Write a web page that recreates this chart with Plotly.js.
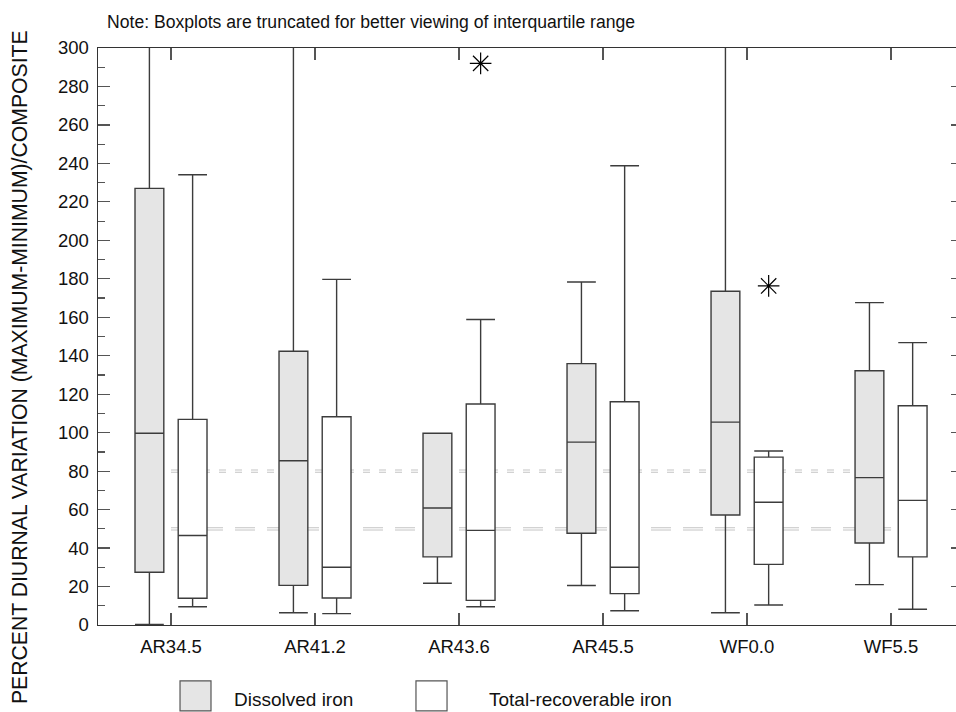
<!DOCTYPE html>
<html>
<head>
<meta charset="utf-8">
<script src="https://cdn.plot.ly/plotly-3.0.1.min.js"></script>
<style>
  html, body { margin: 0; padding: 0; background: #ffffff; }
  #chart { width: 956px; height: 712px; }
</style>
</head>
<body>
<div id="chart"></div>
<script>
// ---- data ----
const categories = ['AR34.5', 'AR41.2', 'AR43.6', 'AR45.5', 'WF0.0', 'WF5.5'];

// Dissolved iron (upper whiskers of AR34.5, AR41.2, WF0.0 run off the truncated axis)
const dissolvedLower  = [0.3, 6.4, 21.7, 20.5, 6.4, 21.0];
const dissolvedQ1     = [27.4, 20.6, 35.4, 47.7, 57.2, 42.6];
const dissolvedMedian = [99.7, 85.4, 60.8, 95.1, 105.5, 76.6];
const dissolvedQ3     = [227.0, 142.3, 99.7, 135.9, 173.5, 132.2];
const dissolvedUpper  = [320, 320, 99.7, 178.3, 320, 167.6];

// Total-recoverable iron
const totalLower  = [9.5, 5.9, 9.5, 7.4, 10.4, 8.2];
const totalQ1     = [13.9, 14.0, 12.8, 16.3, 31.5, 35.4];
const totalMedian = [46.5, 30.0, 49.2, 30.0, 63.8, 64.8];
const totalQ3     = [106.9, 108.3, 114.9, 116.1, 87.3, 114.0];
const totalUpper  = [234.1, 179.7, 158.8, 238.8, 90.5, 146.8];

// Outliers (total-recoverable iron)
const outlierCats = ['AR43.6', 'WF0.0'];
const outlierVals = [292.0, 176.3];

// Reference lines
const refLines = [80, 50];

// ---- layout helpers ----
const OFFSET = 0.15;
const BOXW = 0.2;
const idx = categories.map((c, i) => i);
const dissolvedX = idx.map(i => i - OFFSET);
const totalX = idx.map(i => i + OFFSET);
const outlierX = outlierCats.map(c => categories.indexOf(c) + OFFSET);

const FONT = 'Liberation Sans, Arial, Helvetica, sans-serif';
const LINE = '#3c3c3c';

const traces = [
  {
    type: 'box', name: 'Dissolved iron', x: dissolvedX,
    q1: dissolvedQ1, median: dissolvedMedian, q3: dissolvedQ3,
    lowerfence: dissolvedLower, upperfence: dissolvedUpper,
    width: BOXW, whiskerwidth: 1, boxpoints: false,
    fillcolor: '#e5e5e5', line: { color: LINE, width: 1.4 },
    showlegend: false, hoverinfo: 'skip'
  },
  {
    type: 'box', name: 'Total-recoverable iron', x: totalX,
    q1: totalQ1, median: totalMedian, q3: totalQ3,
    lowerfence: totalLower, upperfence: totalUpper,
    width: BOXW, whiskerwidth: 1, boxpoints: false,
    fillcolor: '#ffffff', line: { color: LINE, width: 1.4 },
    showlegend: false, hoverinfo: 'skip'
  },
  {
    type: 'scatter', mode: 'markers', x: outlierX, y: outlierVals,
    marker: { symbol: 'asterisk-open', size: 18, color: '#000', line: { color: '#000', width: 1.2 } },
    showlegend: false, hoverinfo: 'skip', cliponaxis: false
  },
  {
    type: 'scatter', mode: 'markers', x: [0], y: [0], yaxis: 'y2',
    marker: { opacity: 0 }, showlegend: false, hoverinfo: 'skip'
  }
];

const shapes = [];
const dashes = ['7px,9px', '20px,12px'];
refLines.forEach((v, k) => {
  shapes.push({ type: 'line', layer: 'below', xref: 'x', yref: 'y', x0: 0, x1: categories.length - 1, y0: v, y1: v,
    line: { color: '#c4c4c4', width: 3.2, dash: dashes[k] } });
  shapes.push({ type: 'line', layer: 'below', xref: 'x', yref: 'y', x0: 0, x1: categories.length - 1, y0: v, y1: v,
    line: { color: '#ffffff', width: 1.1, dash: dashes[k] } });
});
// legend swatches
shapes.push({ type: 'rect', xref: 'paper', yref: 'paper', x0: 0.0956, x1: 0.1317, y0: -0.149, y1: -0.097,
  fillcolor: '#e5e5e5', line: { color: '#555', width: 1.2 } });
shapes.push({ type: 'rect', xref: 'paper', yref: 'paper', x0: 0.3706, x1: 0.4068, y0: -0.149, y1: -0.097,
  fillcolor: '#ffffff', line: { color: '#555', width: 1.2 } });

const annotations = [
  { xref: 'paper', yref: 'paper', x: 0.0082, y: 1.045, xanchor: 'left', yanchor: 'middle', showarrow: false,
    text: 'Note: Boxplots are truncated for better viewing of interquartile range',
    font: { family: FONT, size: 17.6, color: '#111' } },
  { xref: 'paper', yref: 'paper', x: -0.0909, y: 0.447, xanchor: 'center', yanchor: 'middle', showarrow: false,
    textangle: -90, text: 'PERCENT DIURNAL VARIATION (MAXIMUM-MINIMUM)/COMPOSITE',
    font: { family: FONT, size: 21.2, color: '#111' } },
  { xref: 'paper', yref: 'paper', x: 0.1562, y: -0.129, xanchor: 'left', yanchor: 'middle', showarrow: false,
    text: 'Dissolved iron', font: { family: FONT, size: 19, color: '#111' } },
  { xref: 'paper', yref: 'paper', x: 0.4534, y: -0.129, xanchor: 'left', yanchor: 'middle', showarrow: false,
    text: 'Total-recoverable iron', font: { family: FONT, size: 19, color: '#111' } }
];

const layout = {
  width: 956, height: 712,
  margin: { l: 98, r: 0, t: 48, b: 87, pad: 0 },
  paper_bgcolor: '#ffffff', plot_bgcolor: '#ffffff',
  boxmode: 'overlay',
  showlegend: false,
  font: { family: FONT, color: '#111' },
  xaxis: {
    range: [-0.507, 5.451], tickmode: 'array', tickvals: idx, ticktext: categories,
    ticks: 'inside', ticklen: 12, tickwidth: 1.2, tickcolor: '#555',
    showline: true, linecolor: '#333', linewidth: 1.4, mirror: 'ticks',
    showgrid: false, zeroline: false,
    tickfont: { family: FONT, size: 18.5, color: '#111' }, ticklabelstandoff: 4
  },
  yaxis: {
    range: [0, 300], dtick: 20, tick0: 0,
    ticks: 'inside', ticklen: 12, tickwidth: 1.2, tickcolor: '#555',
    minor: { dtick: 10, ticks: 'inside', ticklen: 7, tickwidth: 1.2, tickcolor: '#555', showgrid: false },
    showline: true, linecolor: '#333', linewidth: 1.4, mirror: false,
    showgrid: false, zeroline: false,
    tickfont: { family: FONT, size: 18.5, color: '#111' }, ticklabelstandoff: 4
  },
  yaxis2: {
    overlaying: 'y', side: 'right', range: [0, 300], dtick: 20, tick0: 0,
    ticks: 'inside', ticklen: 5, tickwidth: 1.2, tickcolor: '#555',
    showticklabels: false, showline: false, showgrid: false, zeroline: false
  },
  shapes: shapes,
  annotations: annotations
};

Plotly.newPlot('chart', traces, layout, { staticPlot: true, displayModeBar: false });
</script>
</body>
</html>
